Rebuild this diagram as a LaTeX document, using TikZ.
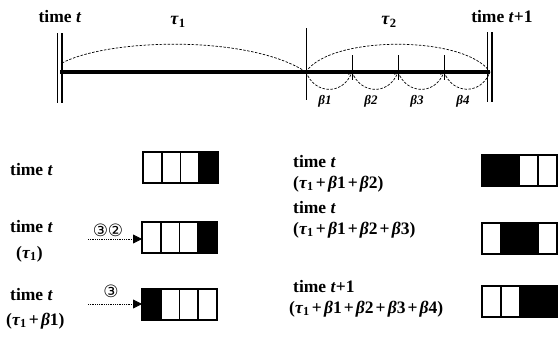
\documentclass[tikz,border=0pt]{standalone}
\usepackage{fontspec}
\setmainfont{Liberation Serif}
\newfontfamily\symfnt{DejaVu Sans}
\usetikzlibrary{arrows.meta}
\newcommand{\mytime}[1]{time \textit{#1}}
\newcommand{\mytau}[1]{\textit{τ}\textsubscript{#1}}
\newcommand{\mybeta}[1]{\textit{β}#1}
\newcommand{\myplus}{\hspace{0.12em}+\hspace{0.12em}}
\begin{document}
\begin{tikzpicture}[x=1pt,y=-1pt,
  lab/.style={font=\fontsize{17.5}{20}\selectfont\bfseries, inner sep=0, anchor=base west},
  toplab/.style={font=\fontsize{17.5}{20}\selectfont\bfseries, inner sep=0},
  blab/.style={font=\fontsize{13}{15}\selectfont\bfseries\itshape, inner sep=0},
  cell/.style={draw, line width=1.6pt, minimum width=18.75pt, minimum height=31pt, inner sep=0, outer sep=0, anchor=north west},
  boxframe/.style={draw, line width=2.2pt},
  bar/.style={line width=1.4pt},
  tickline/.style={line width=1pt},
  arcline/.style={line width=0.7pt, dash pattern=on 2.5pt off 1.5pt},
  feed/.style={line width=0.8pt, densely dotted, -{Triangle[length=9pt,width=9pt]}},
  circ/.style={font=\fontsize{17}{18}\selectfont\symfnt, inner sep=0}
]
\useasboundingbox (0,0) rectangle (558,338);

% timeline
\coordinate (L) at (60,72);
\coordinate (M) at (306,72);
\coordinate (R) at (490,72);
\coordinate (T1) at (352,72);
\coordinate (T2) at (398,72);
\coordinate (T3) at (444,72);
\draw[line width=3.5pt] (L) -- (R);
\draw[bar] (57.5,33) -- (57.5,103);
\draw[bar] (62,33) -- (62,103);
\draw[bar] (487.5,32) -- (487.5,102);
\draw[bar] (492,32) -- (492,102);
\draw[tickline] (306,28) -- (306,100);
\draw[tickline] (352,55) -- (352,80);
\draw[tickline] (398,55) -- (398,80);
\draw[tickline] (444,55) -- (444,80);
\draw[arcline] (62,63) .. controls (110,38) and (250,35) .. (M);
\draw[arcline] (M) .. controls (330,35) and (465,35) .. (R);
\draw[arcline,-{Straight Barb[length=3pt,width=5pt]}] (M) .. controls (315,95) and (343,95) .. (T1);
\draw[arcline,-{Straight Barb[length=3pt,width=5pt]}] (T1) .. controls (361,95) and (389,95) .. (T2);
\draw[arcline,-{Straight Barb[length=3pt,width=5pt]}] (T2) .. controls (407,95) and (435,95) .. (T3);
\draw[arcline] (T3) .. controls (453,95) and (481,95) .. (R);

\node[toplab] (tt) at (60,17) {\mytime{t}};
\node[toplab] (tt1) at (502,17) {\mytime{t}+1};
\node[toplab, font=\fontsize{18}{20}\selectfont\bfseries] (tau1) at (178,22) {\mytau{1}};
\node[toplab, font=\fontsize{18}{20}\selectfont\bfseries] (tau2) at (389,22) {\mytau{2}};
\node[blab] (b1) at (325,101) {β1};
\node[blab] (b2) at (371,101) {β2};
\node[blab] (b3) at (417,101) {β3};
\node[blab] (b4) at (463,101) {β4};

% boxes
\foreach \n/\x/\y/\fa/\fb/\fc/\fd in {A/143/152/white/white/white/black, B/142/222/white/white/white/black, C/142/289/black/white/white/white, D/482/155/black/black/white/white, E/482/223/white/black/black/white, F/482/286/white/white/black/black}{
  \node[cell,fill=\fa] (\n0) at (\x,\y) {};
  \node[cell,fill=\fb] (\n1) at (\n0.north east) {};
  \node[cell,fill=\fc] (\n2) at (\n1.north east) {};
  \node[cell,fill=\fd] (\n3) at (\n2.north east) {};
  \draw[boxframe] (\n0.north west) rectangle (\n3.south east);
}

% left labels
\node[lab] (lA) at (10,175) {\mytime{t}};
\node[lab] (lB) at (10,232) {\mytime{t}};
\node[lab] (lB2) at (16,258) {(\mytau{1})};
\node[lab] (lC) at (10,300) {\mytime{t}};
\node[lab] (lC2) at (6,325) {(\mytau{1}\myplus\mybeta{1})};

% right labels
\node[lab] (rD) at (293,167) {\mytime{t}};
\node[lab] (rD2) at (293,188) {(\mytau{1}\myplus\mybeta{1}\myplus\mybeta{2})};
\node[lab] (rE) at (293,213) {\mytime{t}};
\node[lab] (rE2) at (293,234) {(\mytau{1}\myplus\mybeta{1}\myplus\mybeta{2}\myplus\mybeta{3})};
\node[lab] (rF) at (293,292) {\mytime{t}+1};
\node[lab] (rF2) at (289,313) {(\mytau{1}\myplus\mybeta{1}\myplus\mybeta{2}\myplus\mybeta{3}\myplus\mybeta{4})};

% arrivals
\coordinate (Bs) at (88,239);
\coordinate (Cs) at (88,304);
\draw[feed] (Bs) -- (Bs -| B0.west);
\draw[feed] (Cs) -- (Cs -| C0.west);
\node[circ] (cB) at (108,230) {③②};
\node[circ] (cC) at (111,291) {③};
\end{tikzpicture}
\end{document}
